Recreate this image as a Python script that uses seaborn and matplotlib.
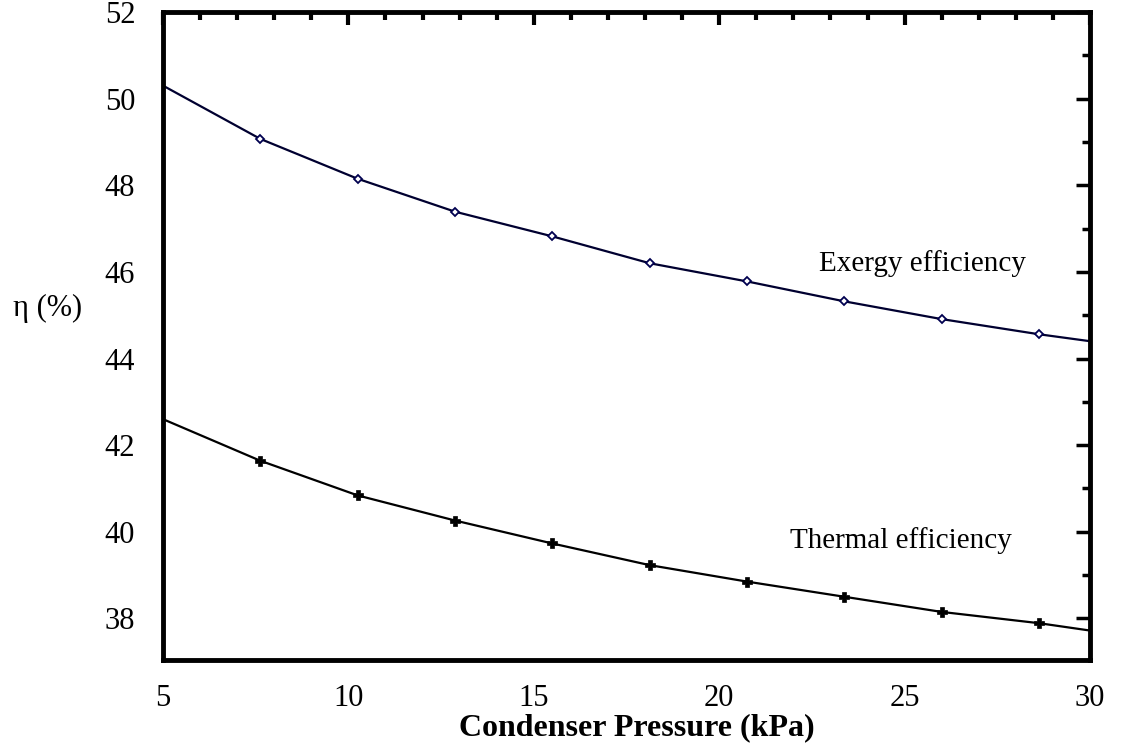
import matplotlib
matplotlib.use("Agg")
import matplotlib.pyplot as plt
import seaborn as sns
import pandas as pd
from matplotlib.ticker import MultipleLocator, FixedLocator

# ---- data ----
pressure = [5.0, 7.625, 10.25, 12.875, 15.5, 18.125, 20.75, 23.375, 26.0, 28.625, 30.0]
exergy_eff = [50.30, 49.07, 48.15, 47.39, 46.82, 46.20, 45.78, 45.32, 44.91, 44.56, 44.40]
thermal_eff = [42.60, 41.64, 40.84, 40.26, 39.73, 39.23, 38.85, 38.50, 38.15, 37.89, 37.72]
x_ticks = [5, 10, 15, 20, 25, 30]
y_ticks = [38, 40, 42, 44, 46, 48, 50, 52]
labels = ["Exergy efficiency", "Thermal efficiency"]
x_label = "Condenser Pressure (kPa)"
y_label = "η (%)"

sns.set_theme(style="white")
plt.rcParams["font.family"] = ["Liberation Serif", "DejaVu Serif"]

fig = plt.figure(figsize=(11.23, 7.47), dpi=100)
ax = fig.add_axes([163 / 1123, 1 - 660 / 747, 927 / 1123, 648 / 747])

df = pd.DataFrame({"p": pressure, "ex": exergy_eff, "th": thermal_eff})
marks = list(range(1, len(pressure) - 1))
sns.lineplot(data=df, x="p", y="ex", ax=ax, color="#000030", linewidth=1.6,
             marker="D", markersize=4.5, markerfacecolor="white",
             markeredgecolor="#000050", markeredgewidth=1.3, markevery=marks)
sns.lineplot(data=df, x="p", y="th", ax=ax, color="black", linewidth=1.6,
             marker="P", markersize=7, markerfacecolor="black",
             markeredgecolor="black", markeredgewidth=0.5, markevery=marks)

ax.set_xlim(5, 30)
ax.set_ylim(37.04, 52)
ax.xaxis.set_major_locator(FixedLocator(x_ticks))
ax.yaxis.set_major_locator(FixedLocator(y_ticks))
ax.xaxis.set_minor_locator(MultipleLocator(1))
ax.yaxis.set_minor_locator(MultipleLocator(1))
ax.set_xticklabels([str(t) for t in x_ticks])
ax.set_yticklabels([str(t) for t in y_ticks])

ax.tick_params(axis="both", which="both", direction="in", top=True, right=True,
               color="black", labelsize=22, labelcolor="black")
ax.tick_params(axis="x", which="major", length=9, width=3, pad=17)
ax.tick_params(axis="x", which="minor", length=6, width=3)
ax.tick_params(axis="y", which="major", length=10, width=2.5, pad=20)
ax.tick_params(axis="y", which="minor", length=6, width=2.5)

for s in ax.spines.values():
    s.set_visible(True)
    s.set_color("black")
    s.set_linewidth(3.5)

ax.set_xlabel(x_label, fontsize=23, fontweight="bold", color="black", va="center")
ax.xaxis.set_label_coords(0.511, -0.105)
ax.set_ylabel(y_label, fontsize=22, rotation=0, color="black", va="center", ha="center")
ax.yaxis.set_label_coords(-0.125, 0.543)

ax.text(25.47, 46.2, labels[0], fontsize=21, ha="center", va="center", color="black")
ax.text(24.9, 39.8, labels[1], fontsize=21, ha="center", va="center", color="black")

ax.set_facecolor("white")
fig.patch.set_facecolor("white")
fig.savefig("out.png", dpi=100)
